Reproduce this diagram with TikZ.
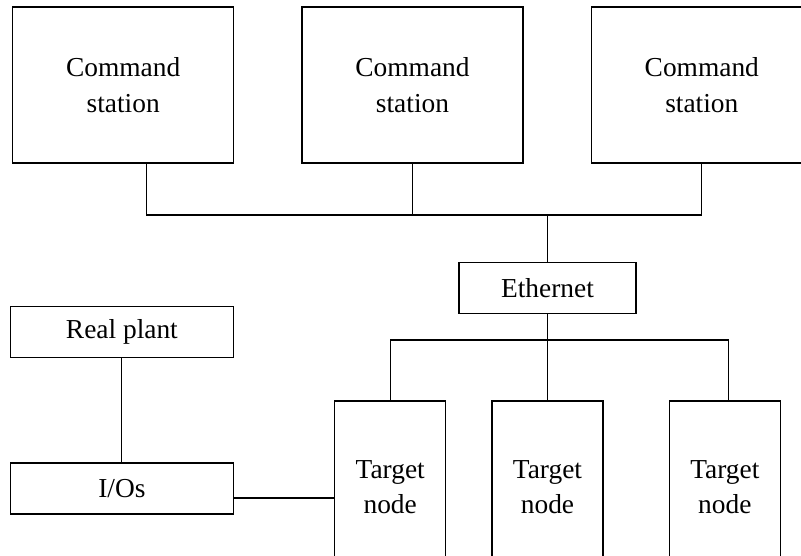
\documentclass[tikz,border=0pt]{standalone}
\usepackage{fontspec}
\setmainfont{Liberation Serif}
\usetikzlibrary{positioning}
\tikzset {
  link path/.style = {
    draw = black,
    line width = 1.1pt
  },
  % plain connector between boxes
  wire/.style = {
    link path
  }
}
\tikzset {
  block node/.style = {
    draw = black,
    line width = 1.3pt,
    rectangle,
    align = center,
    inner sep = 0,
    font = \fontsize{27.4}{35.6}\selectfont
  },
  % command station
  station/.style = {
    block node,
    minimum width = 221pt,
    minimum height = 156pt
  },
  % target node
  target/.style = {
    block node,
    minimum width = 111pt,
    minimum height = 172pt
  },
  % small boxes
  unit/.style = {
    block node,
    minimum width = 223pt,
    minimum height = 51pt
  },
  node distance = 67pt
}
\begin{document}
\begin{tikzpicture}[x=1pt, y=-1pt]
    \clip (0,0) rectangle (801,555);

    \node[station] (cs2) at (412.5,85) {Command\\station};
    \node[station] (cs1) [left=of cs2] {Command\\station};
    \node[station] (cs3) [right=of cs2] {Command\\station};

    \node[target] (t2) at (547.5,487) {Target\\node};
    \node[target] (t1) [left=45pt of t2] {Target\\node};
    \node[target] (t3) [right=65pt of t2] {Target\\node};

    \node[unit, minimum width = 177pt] (eth) [above=86pt of t2] {Ethernet};
    \node[unit] (ios) [left=100pt of t1, yshift=-1.5pt] {I/Os};
    \node[unit] (plant) [above=104pt of ios] {Real plant};

    \coordinate (bus) at (547.5,215);
    \coordinate (lan) at (547.5,340);

    \draw[wire] ([xshift=23pt]cs1.south) |- (bus) -| (cs3.south);
    \draw[wire] (cs2.south) -- (cs2.south |- bus);
    \draw[wire] (bus) -- (eth.north);

    \draw[wire] (eth.south) -- (t2.north);
    \draw[wire] (t1.north) |- (lan) -| ([xshift=4pt]t3.north);

    \draw[wire] (plant) -- (ios);
    \draw[wire] ([yshift=-9.5pt]ios.east) -- ([yshift=-9.5pt]ios.east -| t1.west);
  \end{tikzpicture}
\end{document}
